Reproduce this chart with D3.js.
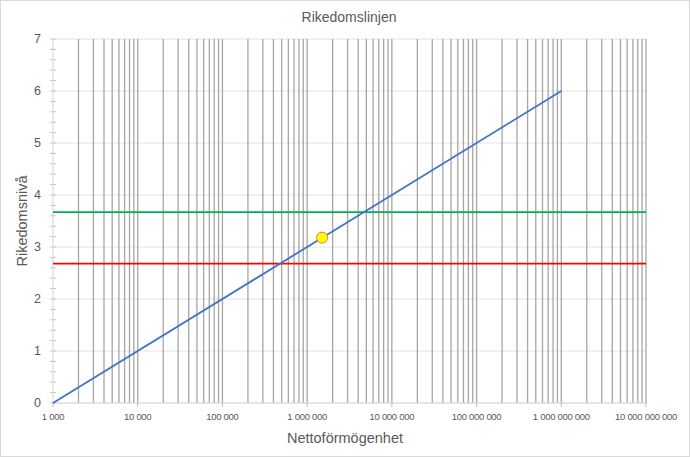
<!DOCTYPE html>
<html><head><meta charset="utf-8">
<script src="https://cdn.jsdelivr.net/npm/d3@7"></script>
<style>
html,body{margin:0;padding:0;background:#fff;}
svg{display:block;font-family:"Liberation Sans",Arial,sans-serif;}
</style></head>
<body><svg id="c" width="690" height="457"></svg>
<script>
const title = "Rikedomslinjen";
const xTitle = "Nettoförmögenhet";
const yTitle = "Rikedomsnivå";
const xDomain = [1e3, 1e10];
const yDomain = [0, 7];
const xTicks = [1e3, 1e4, 1e5, 1e6, 1e7, 1e8, 1e9, 1e10];
const yTicks = [0, 1, 2, 3, 4, 5, 6, 7];
const lineX = [1e3, 1e9];
const lineY = [0, 6];
const greenLevel = 3.67;
const redLevel = 2.68;
const pointX = [1.5e6];
const pointY = [3.18];

const svg = d3.select("#c");
const W = 690, H = 457;
const m = {l:53, r:44, t:39, b:54};
const x = d3.scaleLog().domain(xDomain).range([m.l, W - m.r]);
const y = d3.scaleLinear().domain(yDomain).range([H - m.b, m.t]);
const fmt = d => d3.format(",")(d).replace(/,/g, " ");

svg.append("rect").attr("x",0.5).attr("y",0.5).attr("width",W-1).attr("height",H-1)
  .attr("fill","#fff").attr("stroke","#d9d9d9");

// horizontal gridlines
svg.append("g").selectAll("line").data(yTicks).join("line")
  .attr("x1", m.l).attr("x2", W - m.r).attr("y1", d=>y(d)).attr("y2", d=>y(d))
  .attr("stroke","#e3e3e3").attr("stroke-width",1.2);

// vertical gridlines (major + minor)
const vLines = [];
for (let e = 3; e < 10; e++) for (let k = 1; k <= 9; k++) vLines.push(k * Math.pow(10, e));
vLines.push(1e10);
svg.append("g").selectAll("line").data(vLines.filter(d => d > 1e3)).join("line")
  .attr("x1", d=>x(d)).attr("x2", d=>x(d)).attr("y1", m.t).attr("y2", H - m.b)
  .attr("stroke","#a6a6a6").attr("stroke-width",1.3);

// y axis line and ticks
const yMinor = d3.range(0, 7.0001, 0.2);
svg.append("line").attr("x1", m.l).attr("x2", m.l).attr("y1", m.t).attr("y2", H - m.b)
  .attr("stroke","#d9d9d9").attr("stroke-width",1.2);
svg.append("g").selectAll("line").data(yMinor).join("line")
  .attr("x1", m.l - 3).attr("x2", m.l + 3).attr("y1", d=>y(d)).attr("y2", d=>y(d))
  .attr("stroke","#c8c8c8").attr("stroke-width",1);
svg.append("g").selectAll("text").data(yTicks).join("text")
  .attr("x", m.l - 12).attr("y", d=>y(d)).attr("dy","0.35em").attr("text-anchor","end")
  .attr("font-size", 12.5).attr("fill","#595959").text(d=>d);

// x axis line and ticks
svg.append("line").attr("x1", m.l).attr("x2", W - m.r).attr("y1", H - m.b).attr("y2", H - m.b)
  .attr("stroke","#d9d9d9").attr("stroke-width",1.2);
svg.append("g").selectAll("line").data(xTicks).join("line")
  .attr("x1", d=>x(d)).attr("x2", d=>x(d)).attr("y1", H - m.b).attr("y2", H - m.b + 4)
  .attr("stroke","#bfbfbf").attr("stroke-width",1);
svg.append("g").selectAll("text").data(xTicks).join("text")
  .attr("x", d=>x(d)).attr("y", H - m.b + 17).attr("text-anchor","middle")
  .attr("font-size", 9.5).attr("letter-spacing","-0.3").attr("fill","#595959").text(fmt);

// reference lines
svg.append("line").attr("x1", m.l).attr("x2", W - m.r).attr("y1", y(greenLevel)).attr("y2", y(greenLevel))
  .attr("stroke","#00b050").attr("stroke-width",1.8);
svg.append("line").attr("x1", m.l).attr("x2", W - m.r).attr("y1", y(redLevel)).attr("y2", y(redLevel))
  .attr("stroke","#ff0000").attr("stroke-width",1.8);

// blue line
const pts = lineX.map((d,i)=>[d, lineY[i]]);
svg.append("path").datum(pts)
  .attr("d", d3.line().x(d=>x(d[0])).y(d=>y(d[1])))
  .attr("fill","none").attr("stroke","#4472c4").attr("stroke-width",1.8);

// point
svg.append("g").selectAll("circle").data(pointX.map((d,i)=>[d, pointY[i]])).join("circle")
  .attr("cx", d=>x(d[0])).attr("cy", d=>y(d[1])).attr("r", 5.5)
  .attr("fill","#ffff00").attr("stroke","#ed7d31").attr("stroke-width",1);

// titles
svg.append("text").attr("x", 349).attr("y", 22).attr("text-anchor","middle")
  .attr("font-size", 14).attr("fill","#595959").text(title);
svg.append("text").attr("x", 345).attr("y", 443).attr("text-anchor","middle")
  .attr("font-size", 14.5).attr("fill","#595959").text(xTitle);
svg.append("text").attr("transform","translate(27,221) rotate(-90)").attr("text-anchor","middle")
  .attr("font-size", 14.5).attr("fill","#595959").text(yTitle);
</script></body></html>
